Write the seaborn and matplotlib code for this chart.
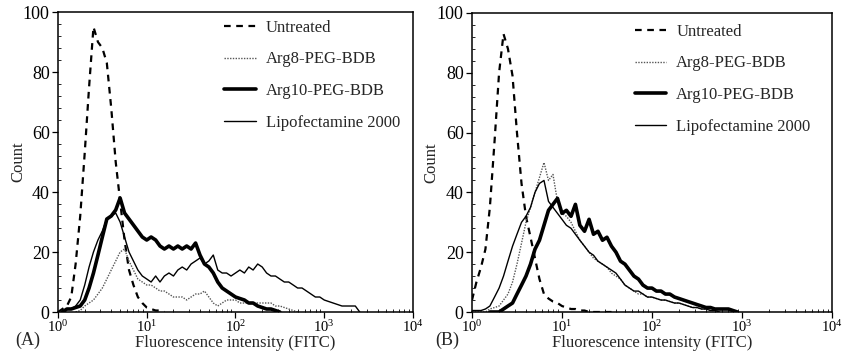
import matplotlib
matplotlib.use("Agg")
import matplotlib.pyplot as plt
import matplotlib.ticker as mticker
import numpy as np
import pandas as pd
import seaborn as sns

# FITC channel positions (log grid, 20 per decade, 10^0 .. 10^3.5)
fitc = [1.00, 1.12, 1.26, 1.41, 1.58, 1.78, 2.00, 2.24, 2.51, 2.82,
        3.16, 3.55, 3.98, 4.47, 5.01, 5.62, 6.31, 7.08, 7.94, 8.91,
        10.0, 11.2, 12.6, 14.1, 15.8, 17.8, 20.0, 22.4, 25.1, 28.2,
        31.6, 35.5, 39.8, 44.7, 50.1, 56.2, 63.1, 70.8, 79.4, 89.1,
        100, 112, 126, 141, 158, 178, 200, 224, 251, 282,
        316, 355, 398, 447, 501, 562, 631, 708, 794, 891,
        1000, 1122, 1259, 1413, 1585, 1778, 1995, 2239, 2512, 2818,
        3162]

samples = ["Untreated", "Arg8-PEG-BDB", "Arg10-PEG-BDB", "Lipofectamine 2000"]
N = None  # no events recorded in that channel range

# panel (A)
a_untreated = [0, 1, 2, 5, 16, 32, 53, 75, 95, 90,
               88, 83, 68, 50, 37, 24, 14, 9, 5, 3,
               1.5, 1, 0.5, 0.5, 0, N, N, N, N, N,
               N, N, N, N, N, N, N, N, N, N,
               N, N, N, N, N, N, N, N, N, N,
               N, N, N, N, N, N, N, N, N, N,
               N, N, N, N, N, N, N, N, N, N, N]
a_arg8 = [N, N, N, N, 0, 0.5, 2, 3, 4, 6,
          8, 11, 14, 17, 20, 21, 17, 14, 11, 10,
          9, 9, 8, 7, 7, 6, 5, 5, 5, 4,
          5, 6, 6, 7, 5, 3, 2, 3, 4, 4,
          4, 3, 3, 3, 3, 3, 3, 3, 3, 2,
          2, 1.5, 1, 0.5, 0, N, N, N, N, N,
          N, N, N, N, N, N, N, N, N, N, N]
a_arg10 = [N, 0, 1, 1, 1.5, 2, 4, 8, 13, 19,
           25, 31, 32, 34, 38, 33, 31, 29, 27, 25,
           24, 25, 24, 22, 21, 22, 21, 22, 21, 22,
           21, 23, 19, 16, 15, 13, 10, 8, 7, 6,
           5, 4.5, 4, 3, 3, 2, 1.5, 1, 1, 0.5,
           0, N, N, N, N, N, N, N, N, N,
           N, N, N, N, N, N, N, N, N, N, N]
a_lipo = [N, 0, 1, 1, 2, 4, 9, 15, 20, 24,
          27, 31, 32, 33, 30, 25, 20, 17, 14, 12,
          11, 10, 12, 10, 12, 13, 12, 14, 15, 14,
          16, 17, 18, 16, 17, 19, 14, 13, 13, 12,
          13, 14, 13, 15, 14, 16, 15, 13, 12, 12,
          11, 10, 10, 9, 8, 8, 7, 6, 5, 5,
          4, 3.5, 3, 2.5, 2, 2, 2, 2, 0, N, N]

# panel (B)
b_untreated = [4, 10, 15, 21, 35, 57, 80, 93, 88, 79,
               60, 43, 32, 25, 18, 11, 6, 4.5, 3.5, 3,
               2, 1.5, 1, 1, 0.5, 0.5, 0, 0, 0, 0,
               0, 0, N, N, N, N, N, N, N, N,
               N, N, N, N, N, N, N, N, N, N,
               N, N, N, N, N, N, N, N, N, N,
               N, N, N, N, N, N, N, N, N, N, N]
b_arg8 = [0, 0, 0, 0, 1, 1.5, 2, 4, 6, 10,
          16, 23, 30, 35, 40, 45, 50, 44, 46, 37,
          33, 32, 30, 27, 24, 22, 20, 18, 17, 16,
          15, 13, 12, 11, 9, 8, 7, 6, 6, 5,
          5, 4.5, 4, 4, 3.5, 3, 3, 2.5, 2, 1.5,
          1.5, 1, 1, 0.5, 0.5, 0, N, N, N, N,
          N, N, N, N, N, N, N, N, N, N, N]
b_arg10 = [N, N, N, N, 0, 0, 0, 1, 2, 3,
           6, 9, 12, 16, 21, 24, 29, 34, 36, 38,
           33, 34, 32, 36, 29, 27, 31, 26, 27, 24,
           25, 22, 20, 17, 16, 14, 12, 11, 9, 8,
           8, 7, 7, 6, 6, 5, 4.5, 4, 3.5, 3,
           2.5, 2, 1.5, 1.5, 1, 1, 1, 1, 0.5, 0,
           N, N, N, N, N, N, N, N, N, N, N]
b_lipo = [0.5, 0.5, 0.5, 1, 2, 5, 8, 12, 17, 22,
          26, 30, 32, 35, 40, 43, 44, 37, 35, 33,
          31, 29, 28, 26, 24, 22, 20, 19, 17, 16,
          15, 14, 13, 11, 9, 8, 7, 7, 6, 5,
          5, 4.5, 4, 4, 3.5, 3, 3, 2.5, 2, 1.5,
          1.5, 1, 1, 0.5, 0.5, 0, N, N, N, N,
          N, N, N, N, N, N, N, N, N, N, N]

panels = [("(A)", [a_untreated, a_arg8, a_arg10, a_lipo]),
          ("(B)", [b_untreated, b_arg8, b_arg10, b_lipo])]

styles = {
    "Untreated": dict(color="black", lw=1.6, ls=(0, (3, 2.5))),
    "Arg8-PEG-BDB": dict(color="#555555", lw=1.0, ls=(0, (1, 1))),
    "Arg10-PEG-BDB": dict(color="black", lw=2.6, ls="-"),
    "Lipofectamine 2000": dict(color="black", lw=1.0, ls="-"),
}

sns.set_style("ticks")
plt.rcParams["font.family"] = ["Liberation Serif", "DejaVu Serif"]
plt.rcParams["mathtext.fontset"] = "custom"
plt.rcParams["mathtext.rm"] = "Liberation Serif"
plt.rcParams["mathtext.it"] = "Liberation Serif:italic"

fig = plt.figure(figsize=(8.43, 3.62), dpi=100)
axes_pos = [[0.0688, 0.1381, 0.4211, 0.8287],
            [0.5599, 0.1381, 0.4270, 0.8260]]
legend_anchor = [(0.425, 1.025), (0.41, 1.015)]
tag_x = [0.018, 0.516]

for i, (tag, curves) in enumerate(panels):
    ax = fig.add_axes(axes_pos[i])
    df = pd.DataFrame({"fitc": fitc})
    for name, vals in zip(samples, curves):
        df[name] = pd.to_numeric(pd.Series(vals, dtype="float64"))
    long = df.melt(id_vars="fitc", var_name="sample", value_name="count")
    for name in samples:
        st = styles[name]
        sub = long[long["sample"] == name].dropna()
        sns.lineplot(data=sub, x="fitc", y="count",
                     ax=ax, color=st["color"], linewidth=st["lw"],
                     linestyle=st["ls"], label=name, estimator=None, sort=False)
    ax.set_xscale("log")
    ax.set_xlim(1, 1e4)
    ax.set_ylim(0, 100)
    ax.set_yticks([0, 20, 40, 60, 80, 100])
    ax.yaxis.set_minor_locator(mticker.MultipleLocator(4))
    ax.xaxis.set_major_locator(mticker.LogLocator(base=10, numticks=10))
    ax.xaxis.set_minor_locator(mticker.LogLocator(base=10, subs=np.arange(2, 10), numticks=10))
    ax.tick_params(which="major", direction="out", length=4, width=0.9, colors="black")
    ax.tick_params(axis="y", which="major", labelsize=13, pad=2)
    ax.tick_params(axis="x", which="major", labelsize=10.5, pad=1)
    ax.tick_params(which="minor", direction="in", length=2, width=0.7)
    for sp in ax.spines.values():
        sp.set_visible(True)
        sp.set_color("black")
        sp.set_linewidth(1.1)
    ax.set_xlabel("Fluorescence intensity (FITC)", fontsize=12, labelpad=0)
    ax.set_ylabel("Count", fontsize=12)
    ax.yaxis.set_label_coords(-0.09, 0.5)
    ax.legend(loc="upper left", bbox_to_anchor=legend_anchor[i], frameon=False,
              fontsize=12, handlelength=1.9, handletextpad=0.6, labelspacing=0.95)
    fig.text(tag_x[i], 0.035, tag, fontsize=13, ha="left", va="bottom")

fig.savefig("out.png", dpi=100)
